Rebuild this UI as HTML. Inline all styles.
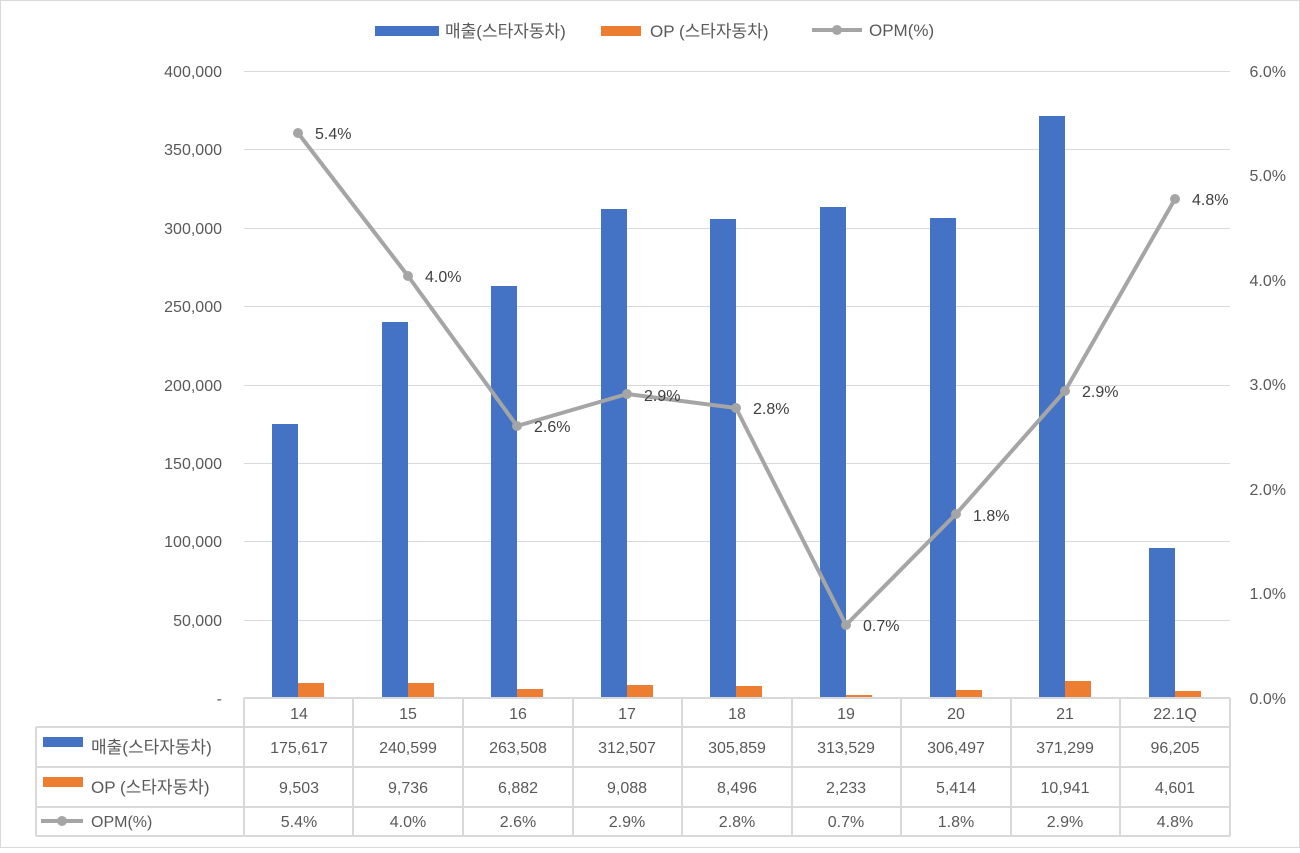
<!DOCTYPE html>
<html><head><meta charset="utf-8"><style>
body{margin:0;background:#fff;}
svg text{font-family:"Liberation Sans","Noto Sans CJK KR",sans-serif;fill:#595959;}
</style></head><body>
<svg width="1300" height="848" xmlns="http://www.w3.org/2000/svg">
<rect x="0.5" y="0.5" width="1299" height="847" fill="#fff" stroke="#d9d9d9"/>
<g stroke="#d9d9d9" stroke-width="1">
<line x1="244" y1="71.5" x2="1230" y2="71.5"/>
<line x1="244" y1="149.5" x2="1230" y2="149.5"/>
<line x1="244" y1="228.5" x2="1230" y2="228.5"/>
<line x1="244" y1="306.5" x2="1230" y2="306.5"/>
<line x1="244" y1="385.5" x2="1230" y2="385.5"/>
<line x1="244" y1="463.5" x2="1230" y2="463.5"/>
<line x1="244" y1="541.5" x2="1230" y2="541.5"/>
<line x1="244" y1="620.5" x2="1230" y2="620.5"/>
</g>
<g font-size="16" text-anchor="end">
<text x="222" y="77">400,000</text><text x="222" y="155">350,000</text><text x="222" y="234">300,000</text><text x="222" y="312">250,000</text><text x="222" y="391">200,000</text><text x="222" y="469">150,000</text><text x="222" y="547">100,000</text><text x="222" y="626">50,000</text><text x="222" y="704">-</text>
</g>
<g font-size="16" text-anchor="end">
<text x="1286" y="77">6.0%</text><text x="1286" y="181">5.0%</text><text x="1286" y="286">4.0%</text><text x="1286" y="390">3.0%</text><text x="1286" y="495">2.0%</text><text x="1286" y="599">1.0%</text><text x="1286" y="704">0.0%</text>
</g>
<g fill="#4472c4">
<rect x="272" y="424" width="26" height="274"/>
<rect x="382" y="322" width="26" height="376"/>
<rect x="491" y="286" width="26" height="412"/>
<rect x="601" y="209" width="26" height="489"/>
<rect x="710" y="219" width="26" height="479"/>
<rect x="820" y="207" width="26" height="491"/>
<rect x="930" y="218" width="26" height="480"/>
<rect x="1039" y="116" width="26" height="582"/>
<rect x="1149" y="548" width="26" height="150"/>
</g>
<g fill="#ed7d31">
<rect x="298" y="683" width="26" height="15"/>
<rect x="408" y="683" width="26" height="15"/>
<rect x="517" y="689" width="26" height="9"/>
<rect x="627" y="685" width="26" height="13"/>
<rect x="736" y="686" width="26" height="12"/>
<rect x="846" y="695" width="26" height="3"/>
<rect x="956" y="690" width="26" height="8"/>
<rect x="1065" y="681" width="26" height="17"/>
<rect x="1175" y="691" width="26" height="7"/>
</g>
<polyline fill="none" stroke="#a5a5a5" stroke-width="4" stroke-linejoin="round" points="298,133 408,276 517,426 627,394 736,408 846,625 956,514 1065,391 1175,199"/>
<g fill="#a5a5a5">
<circle cx="298" cy="133" r="5"/><circle cx="408" cy="276" r="5"/><circle cx="517" cy="426" r="5"/><circle cx="627" cy="394" r="5"/><circle cx="736" cy="408" r="5"/><circle cx="846" cy="625" r="5"/><circle cx="956" cy="514" r="5"/><circle cx="1065" cy="391" r="5"/><circle cx="1175" cy="199" r="5"/>
</g>
<g font-size="16">
<text x="315" y="139" style="fill:#404040">5.4%</text><text x="425" y="282" style="fill:#404040">4.0%</text><text x="534" y="432" style="fill:#404040">2.6%</text><text x="644" y="401" style="fill:#404040">2.9%</text><text x="753" y="414" style="fill:#404040">2.8%</text><text x="863" y="631" style="fill:#404040">0.7%</text><text x="973" y="521" style="fill:#404040">1.8%</text><text x="1082" y="397" style="fill:#404040">2.9%</text><text x="1192" y="205" style="fill:#404040">4.8%</text>
</g>
<rect x="375" y="26" width="64" height="10" fill="#4472c4"/>
<text x="445" y="37" font-size="17">매출(스타자동차)</text>
<rect x="601" y="26" width="40" height="10" fill="#ed7d31"/>
<text x="650" y="37" font-size="17">OP (스타자동차)</text>
<line x1="812" y1="30" x2="862" y2="30" stroke="#a5a5a5" stroke-width="4"/><circle cx="837" cy="30" r="5" fill="#a5a5a5"/>
<text x="869" y="36" font-size="17">OPM(%)</text>
<g stroke="#d9d9d9" stroke-width="2" fill="none">
<line x1="244" y1="698" x2="1230" y2="698"/>
<line x1="36" y1="727" x2="1230" y2="727"/>
<line x1="36" y1="767" x2="1230" y2="767"/>
<line x1="36" y1="807" x2="1230" y2="807"/>
<line x1="36" y1="836" x2="1230" y2="836"/>
<line x1="36" y1="727" x2="36" y2="836"/>
<line x1="244" y1="698" x2="244" y2="836"/>
<line x1="353" y1="698" x2="353" y2="836"/>
<line x1="463" y1="698" x2="463" y2="836"/>
<line x1="573" y1="698" x2="573" y2="836"/>
<line x1="682" y1="698" x2="682" y2="836"/>
<line x1="792" y1="698" x2="792" y2="836"/>
<line x1="901" y1="698" x2="901" y2="836"/>
<line x1="1011" y1="698" x2="1011" y2="836"/>
<line x1="1120" y1="698" x2="1120" y2="836"/>
<line x1="1230" y1="698" x2="1230" y2="836"/>
</g>
<rect x="43" y="737" width="40" height="10" fill="#4472c4"/>
<text x="91" y="753" font-size="17">매출(스타자동차)</text>
<rect x="43" y="777" width="40" height="10" fill="#ed7d31"/>
<text x="91" y="793" font-size="17">OP (스타자동차)</text>
<line x1="41" y1="821" x2="83" y2="821" stroke="#a5a5a5" stroke-width="4"/><circle cx="62" cy="821" r="5" fill="#a5a5a5"/>
<text x="91" y="827" font-size="16">OPM(%)</text>
<g font-size="16" text-anchor="middle">
<text x="299" y="719">14</text><text x="408" y="719">15</text><text x="518" y="719">16</text><text x="627" y="719">17</text><text x="737" y="719">18</text><text x="846" y="719">19</text><text x="956" y="719">20</text><text x="1065" y="719">21</text><text x="1175" y="719">22.1Q</text>
<text x="299" y="753">175,617</text><text x="408" y="753">240,599</text><text x="518" y="753">263,508</text><text x="627" y="753">312,507</text><text x="737" y="753">305,859</text><text x="846" y="753">313,529</text><text x="956" y="753">306,497</text><text x="1065" y="753">371,299</text><text x="1175" y="753">96,205</text>
<text x="299" y="793">9,503</text><text x="408" y="793">9,736</text><text x="518" y="793">6,882</text><text x="627" y="793">9,088</text><text x="737" y="793">8,496</text><text x="846" y="793">2,233</text><text x="956" y="793">5,414</text><text x="1065" y="793">10,941</text><text x="1175" y="793">4,601</text>
<text x="299" y="827">5.4%</text><text x="408" y="827">4.0%</text><text x="518" y="827">2.6%</text><text x="627" y="827">2.9%</text><text x="737" y="827">2.8%</text><text x="846" y="827">0.7%</text><text x="956" y="827">1.8%</text><text x="1065" y="827">2.9%</text><text x="1175" y="827">4.8%</text>
</g>
</svg>
</body></html>
